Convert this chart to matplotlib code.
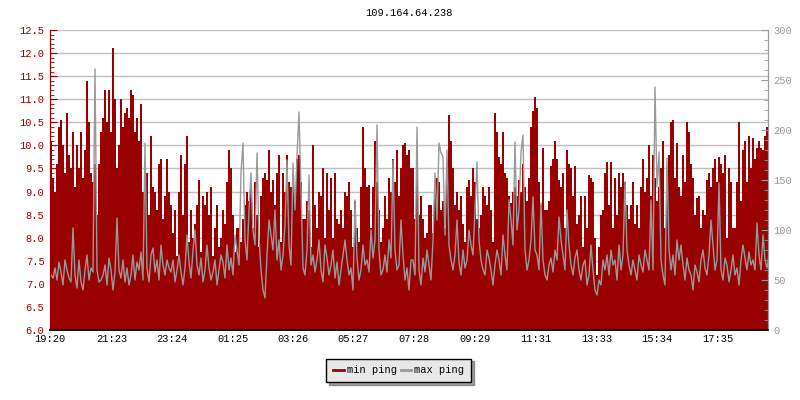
import matplotlib
matplotlib.use("Agg")
import matplotlib.pyplot as plt
from matplotlib.lines import Line2D
import numpy as np

# one sample every 4 minutes, starting 19:20
start_label = "19:20"
step_min = 4

# min ping (ms, left axis)
min_ping = [
    # 19:20 - 23:20
    10.1, 9.3, 9.0, 9.6, 10.4, 10.55, 10.0, 9.4, 10.7, 9.8, 9.5, 10.3, 9.1, 10.0, 9.5, 10.3,
    9.3, 9.9, 11.4, 10.5, 9.4, 9.2, 9.6, 8.5, 9.6, 10.3, 10.6, 11.2, 10.5, 11.2, 10.3, 12.1,
    11.0, 9.5, 10.0, 11.0, 10.4, 10.7, 10.8, 10.6, 11.2, 11.1, 10.3, 10.6, 10.1, 10.9, 9.0, 9.5,
    9.4, 8.5, 10.2, 9.1, 9.0, 8.6, 9.6, 9.7, 8.4, 8.9, 9.7, 9.0, 8.7,
    # 23:24 - 03:20
    8.1, 8.6, 7.6, 9.0, 9.8, 8.5, 9.6, 10.2, 7.9, 8.6, 8.0, 8.3, 8.7, 9.25, 7.7, 8.9,
    8.7, 9.0, 8.5, 9.1, 7.6, 8.2, 8.7, 7.8, 8.0, 8.6, 8.3, 9.2, 9.9, 9.5, 8.5, 7.7,
    8.2, 8.2, 7.9, 8.4, 8.7, 9.0, 8.8, 9.1, 8.2, 9.2, 8.5, 7.8, 8.9, 9.3, 9.4, 9.25,
    9.9, 9.0, 9.25, 8.7, 9.4, 9.8, 7.9, 9.4, 9.0, 9.8, 9.2, 9.1,
    # 03:24 - 07:20
    9.4, 8.9, 9.7, 9.8, 9.2, 8.4, 8.4, 8.8, 8.6, 7.8, 10.0, 8.7, 8.2, 9.0, 8.9, 9.5,
    8.0, 9.4, 8.6, 9.3, 8.0, 9.4, 8.4, 8.3, 8.6, 8.2, 9.0, 8.9, 9.2, 8.6, 7.8, 8.8,
    8.2, 7.9, 9.1, 10.4, 9.5, 9.1, 9.15, 8.2, 9.1, 10.1, 9.2, 8.6, 7.9, 8.2, 8.9, 8.4,
    9.3, 9.0, 9.7, 9.2, 9.9, 8.9, 9.5, 10.0, 10.05, 9.8, 9.9, 9.5,
    # 07:24 - 11:20
    9.5, 8.4, 9.5, 8.5, 8.9, 8.4, 8.0, 8.1, 8.7, 8.7, 8.1, 9.1, 9.3, 9.2, 8.6, 8.8,
    8.2, 9.6, 10.66, 10.1, 9.5, 8.7, 9.0, 8.6, 8.9, 8.3, 7.9, 9.1, 9.25, 8.9, 9.5, 9.2,
    8.4, 8.2, 8.5, 9.1, 8.9, 8.7, 9.1, 8.6, 7.9, 10.7, 10.3, 9.75, 9.6, 10.3, 9.4, 9.3,
    8.9, 8.75, 9.0, 9.1, 8.9, 9.25, 9.0, 9.6, 9.1, 8.8, 9.3, 10.4,
    # 11:24 - 15:20
    10.75, 11.05, 10.8, 9.2, 8.7, 9.95, 8.6, 8.6, 8.8, 9.55, 9.7, 10.1, 9.7, 9.25, 9.1, 9.4,
    8.2, 9.9, 9.6, 9.5, 8.9, 9.55, 8.3, 8.5, 8.9, 7.8, 8.9, 8.2, 9.35, 9.3, 9.2, 8.0,
    7.2, 7.8, 8.5, 8.6, 9.4, 9.65, 8.7, 9.65, 8.2, 9.3, 8.5, 9.4, 9.1, 9.4, 9.2, 8.7,
    8.4, 8.7, 9.2, 8.3, 8.7, 8.2, 9.1, 9.7, 9.0, 9.3, 10.0, 8.9,
    # 15:24 - 19:16
    9.8, 9.3, 8.8, 9.1, 9.5, 10.1, 8.2, 9.4, 9.8, 10.5, 10.55, 9.3, 10.05, 9.1, 8.9, 9.8,
    9.2, 10.5, 10.3, 9.6, 9.3, 8.5, 8.85, 8.9, 8.2, 8.6, 8.5, 9.25, 9.4, 9.1, 9.5, 9.7,
    9.2, 9.75, 9.6, 9.4, 9.8, 8.0, 9.5, 9.2, 8.2, 8.2, 9.2, 10.5, 8.8, 9.9, 10.1, 9.2,
    10.2, 9.5, 10.15, 9.7, 9.95, 10.1, 9.95, 9.9, 10.2, 10.4, 10.2,
]

# max ping (ms, right axis)
max_ping = [
    55, 52, 62, 50, 68, 58, 45, 70, 60, 52, 48, 102, 55, 42, 70, 48,
    40, 60, 75, 50, 62, 58, 261, 60, 48, 50, 55, 65, 45, 72, 60, 40,
    58, 112, 60, 52, 70, 48, 62, 45, 55, 75, 50, 68, 60, 78, 50, 187,
    62, 48, 75, 82, 58, 70, 50, 85, 65, 55, 70, 62, 58,
    70, 48, 60, 75, 58, 45, 62, 95, 68, 52, 80, 100, 65, 55, 72, 48,
    60, 85, 62, 50, 58, 70, 45, 60, 75, 68, 52, 85, 60, 72, 55, 95,
    80, 65, 158, 187, 90, 70, 120, 157, 100, 85, 177, 92, 60, 40, 32, 75,
    110, 95, 80, 120, 70, 90, 60, 75, 105, 170, 85, 65,
    167, 120, 173, 218, 140, 62, 55, 80, 155, 65, 75, 58, 70, 90, 60, 48,
    85, 72, 55, 65, 80, 52, 68, 45, 60, 75, 90, 70, 55, 62, 40, 130,
    72, 50, 60, 85, 65, 70, 58, 100, 72, 90, 205, 80, 55, 60, 75, 58,
    90, 72, 170, 80, 60, 65, 110, 75, 50, 62, 40, 70,
    70, 55, 203, 60, 45, 72, 58, 80, 65, 50, 90, 157, 110, 187, 177, 173,
    95, 180, 85, 70, 60, 75, 110, 68, 55, 80, 62, 70, 100, 85, 75, 120,
    168, 90, 70, 60, 55, 80, 72, 60, 45, 65, 80, 70, 55, 95, 75, 60,
    130, 110, 85, 188, 100, 120, 178, 195, 80, 60, 70, 90,
    133, 80, 75, 60, 127, 70, 55, 50, 65, 72, 58, 80, 70, 113, 90, 75,
    60, 120, 85, 65, 55, 72, 80, 60, 50, 65, 70, 45, 55, 85, 60, 40,
    35, 50, 45, 70, 60, 75, 55, 80, 65, 70, 50, 85, 60, 75, 148, 80,
    65, 55, 70, 60, 50, 75, 65, 58, 80, 70, 60, 130,
    60, 243, 143, 178, 70, 55, 45, 172, 80, 60, 75, 55, 90, 70, 85, 65,
    50, 72, 60, 55, 40, 65, 58, 48, 70, 80, 62, 55, 75, 110, 85, 60,
    70, 147, 60, 50, 72, 65, 48, 60, 75, 55, 62, 45, 70, 85, 72, 60,
    78, 65, 70, 60, 107, 75, 60, 95, 70, 62, 75,
]

tick_minutes = [0, 123, 244, 365, 486, 607, 728, 849, 971, 1093, 1214, 1335]
tick_labels = ["19:20", "21:23", "23:24", "01:25", "03:26", "05:27",
               "07:28", "09:29", "11:31", "13:33", "15:34", "17:35"]

RED = "#990000"
GREY = "#999999"
FONT = "Liberation Mono"
plt.rcParams["font.family"] = FONT
plt.rcParams["font.size"] = 7.5

x_min = np.arange(len(min_ping)) * step_min
x_max = np.arange(len(max_ping)) * step_min + step_min / 2
x_end = 1436

fig = plt.figure(figsize=(8, 4), dpi=100)
ax = fig.add_axes([0.0625, 0.175, 0.8975, 0.75])
ax2 = ax.twinx()

# grid behind everything
for v in np.arange(6.5, 12.51, 0.5):
    ax.axhline(v, color="#c0c0c0", lw=1, zorder=0)

ax.bar(x_min, min_ping, width=step_min, align="edge", color=RED,
       linewidth=0, zorder=2)
ax2.plot(x_max, max_ping, color=GREY, lw=1.0)

ax.set_xlim(0, x_end)
ax.set_ylim(6.0, 12.5)
ax2.set_ylim(0, 300)

ax.set_xticks(tick_minutes)
ax.set_xticklabels(tick_labels)
ax.set_yticks(np.arange(6.0, 12.51, 0.5))
ax.set_yticklabels([f"{v:.1f}" for v in np.arange(6.0, 12.51, 0.5)])
ax.set_yticks(np.arange(6.0, 12.51, 0.1), minor=True)
ax2.set_yticks(np.arange(0, 301, 50))
ax2.set_yticks(np.arange(0, 301, 10), minor=True)

ax.tick_params(axis="x", direction="in", length=5, color="black", pad=3)
ax.tick_params(axis="y", which="major", direction="in", length=5, color=RED,
               labelcolor=RED, pad=4)
ax.tick_params(axis="y", which="minor", direction="in", length=3, color=RED)
ax2.tick_params(axis="y", which="major", direction="in", length=5, color=GREY,
                labelcolor=GREY, pad=4)
ax2.tick_params(axis="y", which="minor", direction="in", length=3, color=GREY)

for a in (ax, ax2):
    a.spines["top"].set_visible(False)
    a.spines["left"].set_color(RED)
    a.spines["right"].set_color(GREY)
    a.spines["bottom"].set_color("black")
    a.spines["bottom"].set_linewidth(1.2)

# title centred over the plot area
fig.text(409 / 800, 0.967, "109.164.64.238", ha="center", va="center",
         fontsize=7.5)

handles = [Line2D([], [], color=RED, lw=2), Line2D([], [], color=GREY, lw=2)]
leg = fig.legend(handles, ["min ping", "max ping"], loc="center",
                 bbox_to_anchor=(0.4985, 0.074), ncol=2, frameon=True,
                 fancybox=False, shadow=True, handlelength=1.0,
                 handletextpad=0.3, columnspacing=0.4, borderpad=0.65,
                 fontsize=7.5)
leg.get_frame().set_facecolor("#e8e8e8")
leg.get_frame().set_edgecolor("black")
leg.get_frame().set_alpha(1)

fig.savefig("out.png", dpi=100, facecolor="white")
